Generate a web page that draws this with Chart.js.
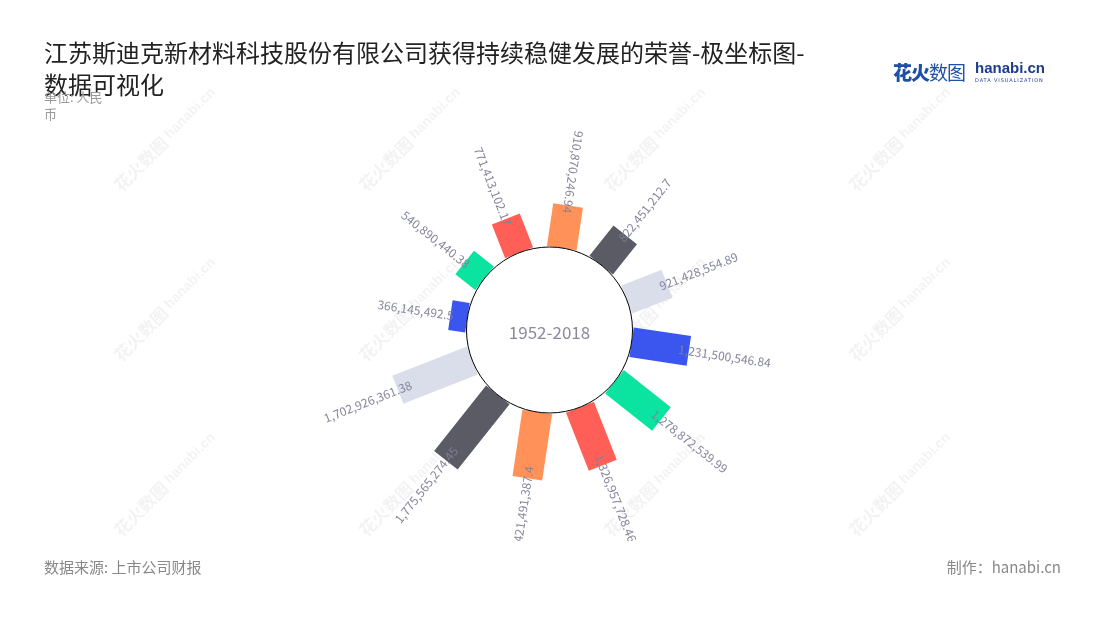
<!DOCTYPE html>
<html>
<head>
<meta charset="utf-8">
<script src="https://cdn.jsdelivr.net/npm/chart.js@4.4.1/dist/chart.umd.min.js"></script>
<style>
  body { margin: 0; background: #fff; font-family: "Noto Sans CJK SC", "Noto Sans", sans-serif; }
  #wrap { position: relative; width: 1100px; height: 620px; overflow: hidden; }
  #chart { position: absolute; left: 0; top: 0; }
  .title { position: absolute; left: 44px; top: 36px; width: 775px; font-size: 24px; line-height: 32px; color: #222; }
  .unit { position: absolute; left: 44px; top: 88px; width: 64px; font-size: 13px; line-height: 17px; color: #999; }
  .source { position: absolute; left: 44px; top: 556px; font-size: 15px; color: #888; }
  .maker { position: absolute; right: 39px; top: 556px; font-size: 15px; color: #888; }
  .logo { position: absolute; left: 893px; top: 58px; color: #1f4fa6; white-space: nowrap; }
  .logo .cn { font-size: 19px; letter-spacing: -1px; }
  .logo .cn b { font-weight: 900; }
  .logo .en { position: absolute; left: 82px; top: 1px; font-family: "Liberation Sans", sans-serif; font-weight: bold; font-size: 15px; color: #1c3c8c; }
  .logo .sub { position: absolute; left: 82px; top: 19px; font-family: "DejaVu Sans", sans-serif; font-size: 5px; letter-spacing: 0.9px; color: #1c3c8c; }
</style>
</head>
<body>
<div id="wrap">
  <canvas id="chart" width="1100" height="620"></canvas>
  <div class="title">江苏斯迪克新材料科技股份有限公司获得持续稳健发展的荣誉-极坐标图-数据可视化</div>
  <div class="unit">单位: 人民币</div>
  <div class="source">数据来源: 上市公司财报</div>
  <div class="maker">制作：hanabi.cn</div>
  <div class="logo"><span class="cn"><b>花火</b>数图</span><span class="en">hanabi.cn</span><span class="sub">DATA VISUALIZATION</span></div>
</div>
<script>
// Bar values, clockwise from the top
const barValues = [
  910870246.94, 822451212.7, 921428554.89, 1231500546.84,
  1278872539.99, 1326957728.46, 1421491387.4, 1775565274.45,
  1702926361.38, 366145492.5, 540890440.38, 771413102.17
];
const palette = ['#ff9159', '#5b5b66', '#dadeea', '#3b56ee', '#0be3a0', '#ff5f57'];
const centerLabel = '1952-2018';

// Layout
const CX = 549.5, CY = 330;
const HOLE_PX = 83;
const PX_PER_YUAN = 0.047e-6;
const BAR_PX = 30;
const START_DEG = 8.5;
const W = 1100, H = 620;

const holeV = HOLE_PX / PX_PER_YUAN;
const step = 360 / barValues.length;

function angleOf(i) { return START_DEG + i * step; }
function dir(i) {
  const a = angleOf(i) * Math.PI / 180;
  return [Math.sin(a), Math.cos(a)];
}
function fmt(v) { return v.toLocaleString('en-US', { maximumFractionDigits: 2 }); }

const barSets = barValues.map((v, i) => {
  const [sx, sy] = dir(i);
  return {
    showLine: true,
    data: [
      { x: sx * holeV, y: sy * holeV },
      { x: sx * (holeV + v), y: sy * (holeV + v) }
    ],
    borderColor: palette[i % palette.length],
    borderWidth: BAR_PX,
    borderCapStyle: 'butt',
    pointRadius: 0,
    order: 1
  };
});

const holeSet = {
  type: 'bubble',
  data: [{ x: 0, y: 0, r: HOLE_PX }],
  backgroundColor: '#ffffff',
  borderColor: '#000000',
  borderWidth: 1,
  order: 0
};

const watermarkPlugin = {
  id: 'watermark',
  beforeDatasetsDraw(chart) {
    const ctx = chart.ctx;
    ctx.save();
    ctx.fillStyle = 'rgba(0,0,0,0.05)';
    [165, 410, 655, 900].forEach(x => {
      [140, 310, 485].forEach(y => {
        ctx.save();
        ctx.translate(x, y);
        ctx.rotate(-Math.PI / 4);
        ctx.font = 'bold 17px "Noto Sans CJK SC"';
        ctx.textAlign = 'right';
        ctx.textBaseline = 'middle';
        ctx.fillText('花火数图', 0, 0);
        ctx.font = 'bold 14px "Liberation Sans"';
        ctx.textAlign = 'left';
        ctx.fillText('hanabi.cn', 4, -1);
        ctx.restore();
      });
    });
    ctx.restore();
  }
};

const labelPlugin = {
  id: 'barLabels',
  afterDatasetsDraw(chart) {
    const { ctx, scales: { x, y } } = chart;
    ctx.save();
    ctx.beginPath();
    ctx.rect(0, 0, W, 541);
    ctx.clip();
    ctx.font = '12px "Noto Sans CJK SC"';
    ctx.fillStyle = 'rgba(128,128,152,0.95)';
    ctx.textBaseline = 'middle';
    barValues.forEach((v, i) => {
      const deg = angleOf(i);
      const [sx, sy] = dir(i);
      const r = holeV + v * 0.82;
      const px = x.getPixelForValue(sx * r);
      const py = y.getPixelForValue(sy * r);
      const flip = deg < 15 || deg > 185;
      let rot = (deg - 90) * Math.PI / 180;
      if (flip) rot += Math.PI;
      ctx.save();
      ctx.translate(px, py);
      ctx.rotate(rot);
      ctx.textAlign = flip ? 'right' : 'left';
      ctx.fillText(fmt(v), 0, 0);
      ctx.restore();
    });
    ctx.restore();

    ctx.save();
    ctx.font = '17px "Noto Sans CJK SC"';
    ctx.fillStyle = '#8a8a9c';
    ctx.textAlign = 'center';
    ctx.textBaseline = 'middle';
    ctx.fillText(centerLabel, x.getPixelForValue(0), y.getPixelForValue(0) + 3);
    ctx.restore();
  }
};

new Chart(document.getElementById('chart'), {
  type: 'scatter',
  data: { datasets: [holeSet, ...barSets] },
  options: {
    responsive: false,
    animation: false,
    events: [],
    layout: { padding: 0, autoPadding: false },
    plugins: { legend: { display: false }, tooltip: { enabled: false } },
    scales: {
      x: { type: 'linear', display: false, min: -CX / PX_PER_YUAN, max: (W - CX) / PX_PER_YUAN },
      y: { type: 'linear', display: false, min: -(H - CY) / PX_PER_YUAN, max: CY / PX_PER_YUAN }
    }
  },
  plugins: [watermarkPlugin, labelPlugin]
});
</script>
</body>
</html>
